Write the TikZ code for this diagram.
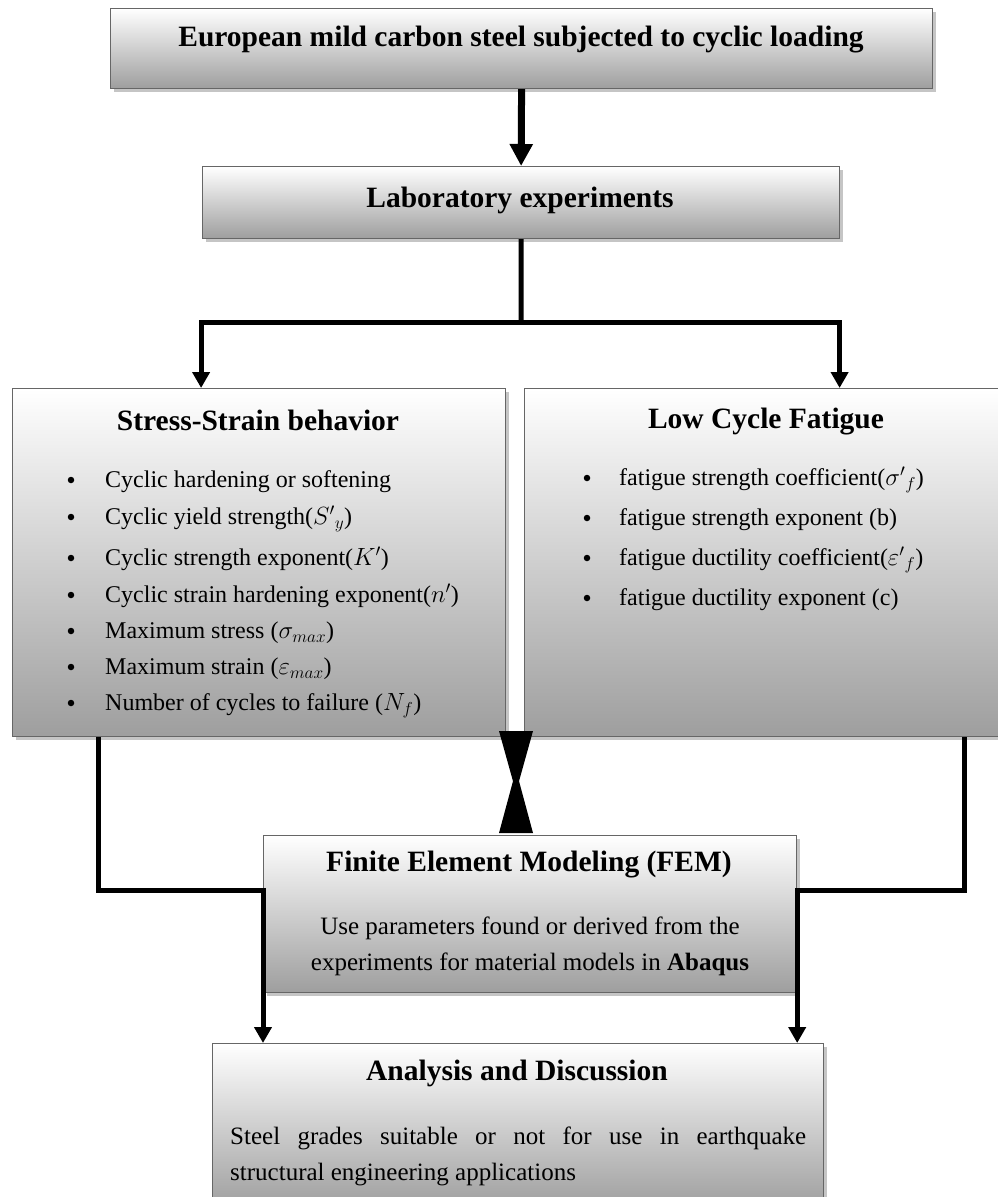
\documentclass[tikz,border=0pt]{standalone}
\usepackage{fontspec}
\setmainfont{Liberation Serif}
\usepackage{amsmath}
\usetikzlibrary{positioning,shadows,arrows.meta}

\tikzset{
  box/.style={draw=black!60, line width=1.2pt, top color=white, bottom color=black!38,
    drop shadow={shadow xshift=3pt, shadow yshift=-3pt, fill=black!45, opacity=.5},
    inner sep=0pt, anchor=north west},
  head/.style={font=\fontsize{29.5}{34}\selectfont\bfseries, inner sep=0pt},
  item/.style={font=\fontsize{24}{28}\selectfont, inner sep=0pt, anchor=mid west},
  dot/.style={circle, fill, inner sep=0pt, minimum size=6.5pt, yshift=5pt},
  body/.style={font=\fontsize{25}{36}\selectfont, inner sep=0pt},
  flow/.style={line width=5pt},
  tip/.style={-{Triangle[width=17pt,length=16pt]}}
}

\begin{document}
\begin{tikzpicture}[x=1pt,y=1pt]
  \useasboundingbox (0,0) rectangle (997,-1197);

  % boxes
  \node[box, minimum width=822pt, minimum height=80pt] (steel) at (110,-8) {};
  \node[box, minimum width=637pt, minimum height=72pt] (lab) at (202,-166) {};
  \node[box, minimum width=493pt, minimum height=348pt] (stress) at (12,-388) {};
  \node[box, minimum width=478pt, minimum height=348pt] (fatigue) at (524,-388) {};
  \node[box, minimum width=533pt, minimum height=157pt] (fem) at (263,-835) {};
  \node[box, minimum width=611pt, minimum height=165pt] (analysis) at (212,-1043) {};

  % titles
  \node[head] (steeltxt) at (521,-40) {European mild carbon steel subjected to cyclic loading};
  \node[head] (labtxt) at (520,-200) {Laboratory experiments};
  \node[head] (stresstxt) at (258,-420) {Stress-Strain behavior};
  \node[head] (fatiguetxt) at (766,-422) {Low Cycle Fatigue};
  \node[head] (femtxt) at (529,-865) {Finite Element Modeling (FEM)};
  \node[head] (analysistxt) at (517,-1073) {Analysis and Discussion};

  % lists
  \foreach \y/\t [count=\i] in {485/{Cyclic hardening or softening},
      522/{Cyclic yield strength(${S'}_{y}$)},
      563/{Cyclic strength exponent($K'$)},
      600/{Cyclic strain hardening exponent($n'$)},
      636/{Maximum stress ($\sigma_{max}$)},
      672/{Maximum strain ($\varepsilon_{max}$)},
      708/{Number of cycles to failure ($N_f$)}} {
    \node[dot] (sb\i) at (71,-\y) {};
    \node[item] (s\i) at (105,-\y) {\t};
  }
  \foreach \y/\t [count=\i] in {483/{fatigue strength coefficient(${\sigma'}_{f}$)},
      523/{fatigue strength exponent (b)},
      563/{fatigue ductility coefficient(${\varepsilon'}_{f}$)},
      603/{fatigue ductility exponent (c)}} {
    \node[dot] (fb\i) at (587,-\y) {};
    \node[item] (f\i) at (619,-\y) {\t};
  }

  \node[body, align=center] (femtext) at (530,-946)
    {Use parameters found or derived from the\\experiments for material models in \textbf{Abaqus}};
  \node[body, text width=576pt, align=justify, anchor=north west] (analysistext) at (230,-1127)
    {Steel grades suitable or not for use in earthquake\linebreak structural engineering applications};

  % connectors
  \draw[flow, -{Triangle[width=22pt,length=22pt]}, line width=7pt] (steel.south) -- (lab.north);
  \coordinate (split) at (521,-322);
  \draw[flow] (lab.south) -- (split);
  \draw[flow, tip] (split) -| ([xshift=-58pt]stress.north);
  \draw[flow, tip] (split) -| ([xshift=76pt]fatigue.north);

  \draw[flow, tip] ([xshift=-161pt]stress.south) |- ([yshift=-55pt]fem.north west)
    -- (fem.west |- analysis.north);
  \draw[flow, tip] ([xshift=201pt]fatigue.south) |- ([yshift=-55pt]fem.north east)
    -- (fem.east |- analysis.north);

  % link between the two groups and FEM
  \fill (499,-731) -- (533,-731) -- (516,-792) -- cycle;
  \fill (499,-833) -- (533,-833) -- (516,-770) -- cycle;
\end{tikzpicture}
\end{document}
